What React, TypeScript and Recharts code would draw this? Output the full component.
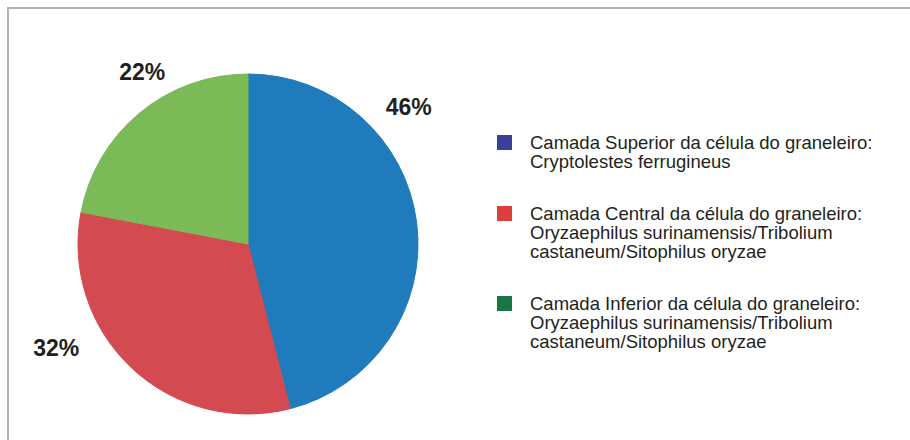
import { PieChart, Pie, Cell, Legend } from 'recharts';

const layers = ['Superior', 'Central', 'Inferior'];
const shares = [46, 32, 22];
const sliceColors = ['#1f7bbb', '#d34a51', '#7cb957'];
const legendColors = ['#3a3f99', '#db403c', '#1b7742'];
const legendLines = [
    ['Camada Superior da célula do graneleiro:', 'Cryptolestes ferrugineus'],
    ['Camada Central da célula do graneleiro:', 'Oryzaephilus surinamensis/Tribolium', 'castaneum/Sitophilus oryzae'],
    ['Camada Inferior da célula do graneleiro:', 'Oryzaephilus surinamensis/Tribolium', 'castaneum/Sitophilus oryzae'],
];

const data = layers.map((name, i) => ({ name, value: shares[i] }));

// labels sit outside the pie, placed "best fit" style like the original
const labelSpots = [
    { angle: 40.4, dist: 211 },
    { angle: 208.4, dist: 218 },
    { angle: 121.6, dist: 202 },
];

const RADIAN = Math.PI / 180;

const renderLabel = (props: any) => {
    const { cx, cy, index, value } = props;
    const spot = labelSpots[index];
    const x = cx + spot.dist * Math.cos(spot.angle * RADIAN);
    const y = cy - spot.dist * Math.sin(spot.angle * RADIAN);
    return (
        <text
            x={x}
            y={y}
            textAnchor="middle"
            dominantBaseline="central"
            fill="#231f20"
            fontSize={23}
            fontWeight="bold"
            fontFamily="'Liberation Sans', Arial, sans-serif"
        >
            {value}%
        </text>
    );
};

const renderLegend = () => (
    <div style={{ display: 'flex', flexDirection: 'column', gap: 33 }}>
        {legendLines.map((lines, i) => (
            <div key={i} style={{ display: 'flex', alignItems: 'flex-start' }}>
                <div
                    style={{
                        width: 15,
                        height: 15,
                        marginTop: 2,
                        marginRight: 18,
                        background: legendColors[i],
                        flexShrink: 0,
                    }}
                />
                <div style={{ fontSize: 18.5, lineHeight: '19px', color: '#231f20' }}>
                    {lines.map((l, j) => (
                        <div key={j}>{l}</div>
                    ))}
                </div>
            </div>
        ))}
    </div>
);

export default function App() {
    return (
        <div
            style={{
                position: 'absolute',
                left: 7,
                top: 7,
                width: 903,
                height: 433,
                borderTop: '2px solid #b3b3b3',
                borderLeft: '2px solid #b3b3b3',
                fontFamily: "'Liberation Sans', Arial, sans-serif",
            }}
        >
            <PieChart width={900} height={430} margin={{ top: 0, right: 0, bottom: 0, left: 0 }}>
                <Pie
                    data={data}
                    dataKey="value"
                    nameKey="name"
                    cx={239}
                    cy={235}
                    outerRadius={170}
                    startAngle={90}
                    endAngle={-270}
                    label={renderLabel}
                    labelLine={false}
                    isAnimationActive={false}
                >
                    {data.map((d, i) => (
                        <Cell key={d.name} fill={sliceColors[i]} stroke={sliceColors[i]} strokeWidth={1} />
                    ))}
                </Pie>
                <Legend
                    layout="vertical"
                    content={renderLegend}
                    wrapperStyle={{ left: 488, top: 124, width: 400 }}
                />
            </PieChart>
        </div>
    );
}
